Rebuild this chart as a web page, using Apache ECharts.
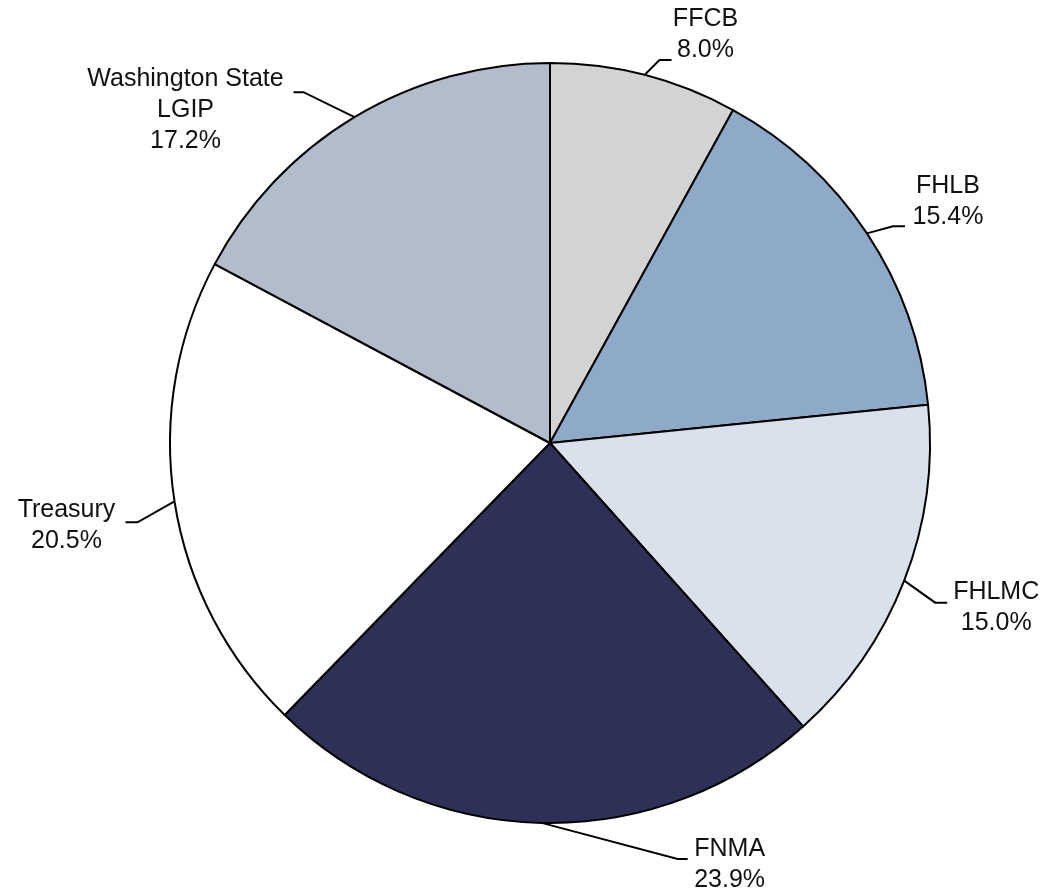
<!DOCTYPE html>
<html>
<head>
<meta charset="utf-8">
<style>
  html, body { margin: 0; padding: 0; background: #fff; }
  #chart { width: 1044px; height: 895px; }
</style>
<script src="https://cdn.jsdelivr.net/npm/echarts@6/dist/echarts.min.js"></script>
</head>
<body>
<div id="chart"></div>
<script>
const categories = ["FFCB", "FHLB", "FHLMC", "FNMA", "Treasury", "Washington State\nLGIP"];
const shares = [8.0, 15.4, 15.0, 23.9, 20.5, 17.2];
const sliceColors = ["#d3d3d3", "#8eaac8", "#dae1ec", "#2e3057", "#ffffff", "#b3bccb"];

// leader line shape, relative to the slice edge anchor:
// elbow = anchor + [ex, ey], tail = horizontal run after the elbow, label = tail end + [lx, ly]
const leaderOffsets = [
    { ex: 15, ey: -15, tail: 12, lx: 34, ly: -25 },
    { ex: 26, ey: -7, tail: 12, lx: 43, ly: -25 },
    { ex: 31, ey: 22, tail: 12, lx: 49, ly: 5 },
    { ex: 136, ey: 36, tail: 10, lx: 42, ly: 6 },
    { ex: -37, ey: 21, tail: -12, lx: -59, ly: 3 },
    { ex: -51, ey: -25, tail: -10, lx: -108, ly: 18 }
];

const textFont = "Liberation Sans, Arial, sans-serif";

const chart = echarts.init(document.getElementById("chart"), null, { renderer: "canvas" });

const data = categories.map((name, i) => ({
    name,
    value: shares[i],
    itemStyle: { color: sliceColors[i] }
}));

chart.setOption({
    animation: false,
    series: [{
        type: "pie",
        center: [550, 443],
        radius: 380,
        startAngle: 90,
        clockwise: true,
        avoidLabelOverlap: false,
        data,
        itemStyle: { borderColor: "#000", borderWidth: 2 },
        emphasis: { disabled: true },
        label: {
            show: true,
            position: "outside",
            alignTo: "none",
            color: "#000",
            fontFamily: textFont,
            fontSize: 25,
            lineHeight: 31,
            formatter: (p) => p.name.split("\n").concat(p.value.toFixed(1) + "%")
                .map((line) => `{t|${line}}`).join("\n"),
            rich: {
                t: { align: "center", fontSize: 25, lineHeight: 31, color: "#111", fontFamily: textFont }
            }
        },
        labelLine: {
            show: true,
            smooth: false,
            lineStyle: { color: "#000", width: 2 }
        },
        labelLayout(params) {
            const off = leaderOffsets[params.dataIndex];
            const anchor = params.labelLinePoints[0];
            const elbow = [anchor[0] + off.ex, anchor[1] + off.ey];
            const end = [elbow[0] + off.tail, elbow[1]];
            return {
                x: end[0] + off.lx,
                y: end[1] + off.ly,
                align: "center",
                verticalAlign: "middle",
                labelLinePoints: [anchor, elbow, end]
            };
        }
    }]
});
</script>
</body>
</html>
